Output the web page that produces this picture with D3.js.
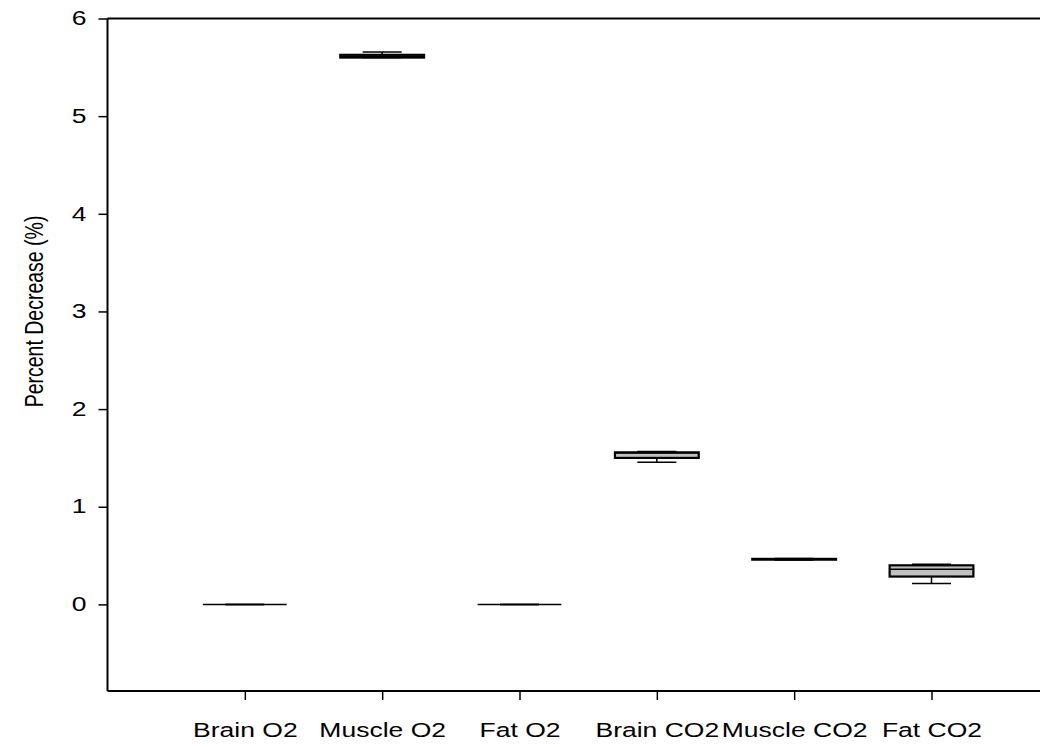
<!DOCTYPE html>
<html>
<head>
<meta charset="utf-8">
<script src="https://cdn.jsdelivr.net/npm/d3@7"></script>
<style>
  html, body { margin: 0; padding: 0; background: #fff; }
  svg { display: block; font-family: "Liberation Sans", Arial, sans-serif; }
</style>
</head>
<body>
<svg id="chart" width="1058" height="747"></svg>
<script>
// ---- data ----
const categories = ["Brain O2", "Muscle O2", "Fat O2", "Brain CO2", "Muscle CO2", "Fat CO2"];
const whiskerLow  = [0, 5.600, 0, 1.455, 0.455, 0.215];
const quartile1   = [0, 5.600, 0, 1.500, 0.458, 0.285];
const medians     = [0, 5.612, 0, 1.550, 0.462, 0.360];
const quartile3   = [0, 5.628, 0, 1.557, 0.466, 0.400];
const whiskerHigh = [0, 5.656, 0, 1.565, 0.470, 0.410];
const yTicks = [0, 1, 2, 3, 4, 5, 6];
const yTitle = "Percent Decrease (%)";

// ---- layout ----
const svg = d3.select("#chart");
const mLeft = 107.5, mRight = 1040, mTop = 18.5, mBottom = 691;
const x = d3.scaleLinear().domain([0, 6.79]).range([mLeft, mRight]);
const y = d3.scaleLinear().domain([-0.887, 6]).range([mBottom, mTop]);
const boxHalf = 0.305, capHalf = 0.142;
const fontSize = 19.5, stretchX = 1.36;

// axes
const yAxis = d3.axisLeft(y).tickValues(yTicks).tickSize(9).tickPadding(0).tickFormat(d3.format("d"));
const gy = svg.append("g").attr("transform", `translate(${mLeft},0)`).call(yAxis);
gy.select(".domain").remove();
gy.selectAll(".tick line").attr("stroke", "#000").attr("stroke-width", 1.5);
gy.selectAll(".tick text").attr("font-size", fontSize).attr("fill", "#000")
  .attr("font-family", "Liberation Sans, Arial, sans-serif")
  .attr("x", 0)
  .attr("transform", `translate(-21,0) scale(${stretchX},1)`);

const xAxis = d3.axisBottom(x).tickValues(d3.range(1, categories.length + 1))
  .tickSize(9).tickPadding(23).tickFormat((d) => categories[d - 1]);
const gx = svg.append("g").attr("transform", `translate(0,${mBottom})`).call(xAxis);
gx.select(".domain").remove();
gx.selectAll(".tick line").attr("stroke", "#000").attr("stroke-width", 1.5);
gx.selectAll(".tick text").attr("font-size", fontSize).attr("fill", "#000")
  .attr("font-family", "Liberation Sans, Arial, sans-serif")
  .attr("transform", `scale(${stretchX},1)`);

// frame lines
svg.append("line").attr("x1", mLeft).attr("x2", mLeft).attr("y1", mTop).attr("y2", mBottom)
  .attr("stroke", "#000").attr("stroke-width", 2);
svg.append("line").attr("x1", mLeft).attr("x2", mRight).attr("y1", mBottom).attr("y2", mBottom)
  .attr("stroke", "#000").attr("stroke-width", 2);
svg.append("line").attr("x1", mLeft).attr("x2", mRight).attr("y1", mTop).attr("y2", mTop)
  .attr("stroke", "#000").attr("stroke-width", 2);

// y title
svg.append("text")
  .attr("transform", `translate(43,${y(3)}) scale(${stretchX},1) rotate(-90)`)
  .attr("text-anchor", "middle")
  .attr("font-size", fontSize)
  .attr("fill", "#000")
  .text(yTitle);

// boxes
const data = categories.map((c, i) => ({
  i: i + 1, lo: whiskerLow[i], q1: quartile1[i], med: medians[i], q3: quartile3[i], hi: whiskerHigh[i]
}));
const g = svg.append("g");
data.forEach((d) => {
  const gg = g.append("g");
  gg.append("line").attr("x1", x(d.i)).attr("x2", x(d.i)).attr("y1", y(d.q1)).attr("y2", y(d.lo))
    .attr("stroke", "#000").attr("stroke-width", 1.5);
  gg.append("line").attr("x1", x(d.i)).attr("x2", x(d.i)).attr("y1", y(d.q3)).attr("y2", y(d.hi))
    .attr("stroke", "#000").attr("stroke-width", 1.5);
  gg.append("line").attr("x1", x(d.i - capHalf)).attr("x2", x(d.i + capHalf)).attr("y1", y(d.lo)).attr("y2", y(d.lo))
    .attr("stroke", "#000").attr("stroke-width", 1.5);
  gg.append("line").attr("x1", x(d.i - capHalf)).attr("x2", x(d.i + capHalf)).attr("y1", y(d.hi)).attr("y2", y(d.hi))
    .attr("stroke", "#000").attr("stroke-width", 1.5);
  gg.append("rect")
    .attr("x", x(d.i - boxHalf)).attr("width", x(d.i + boxHalf) - x(d.i - boxHalf))
    .attr("y", y(d.q3)).attr("height", Math.max(0, y(d.q1) - y(d.q3)))
    .attr("fill", "#c0c0c0").attr("stroke", "#000").attr("stroke-width", 2.2);
  gg.append("line").attr("x1", x(d.i - boxHalf)).attr("x2", x(d.i + boxHalf)).attr("y1", y(d.med)).attr("y2", y(d.med))
    .attr("stroke", "#000").attr("stroke-width", 1.5);
});
</script>
</body>
</html>
